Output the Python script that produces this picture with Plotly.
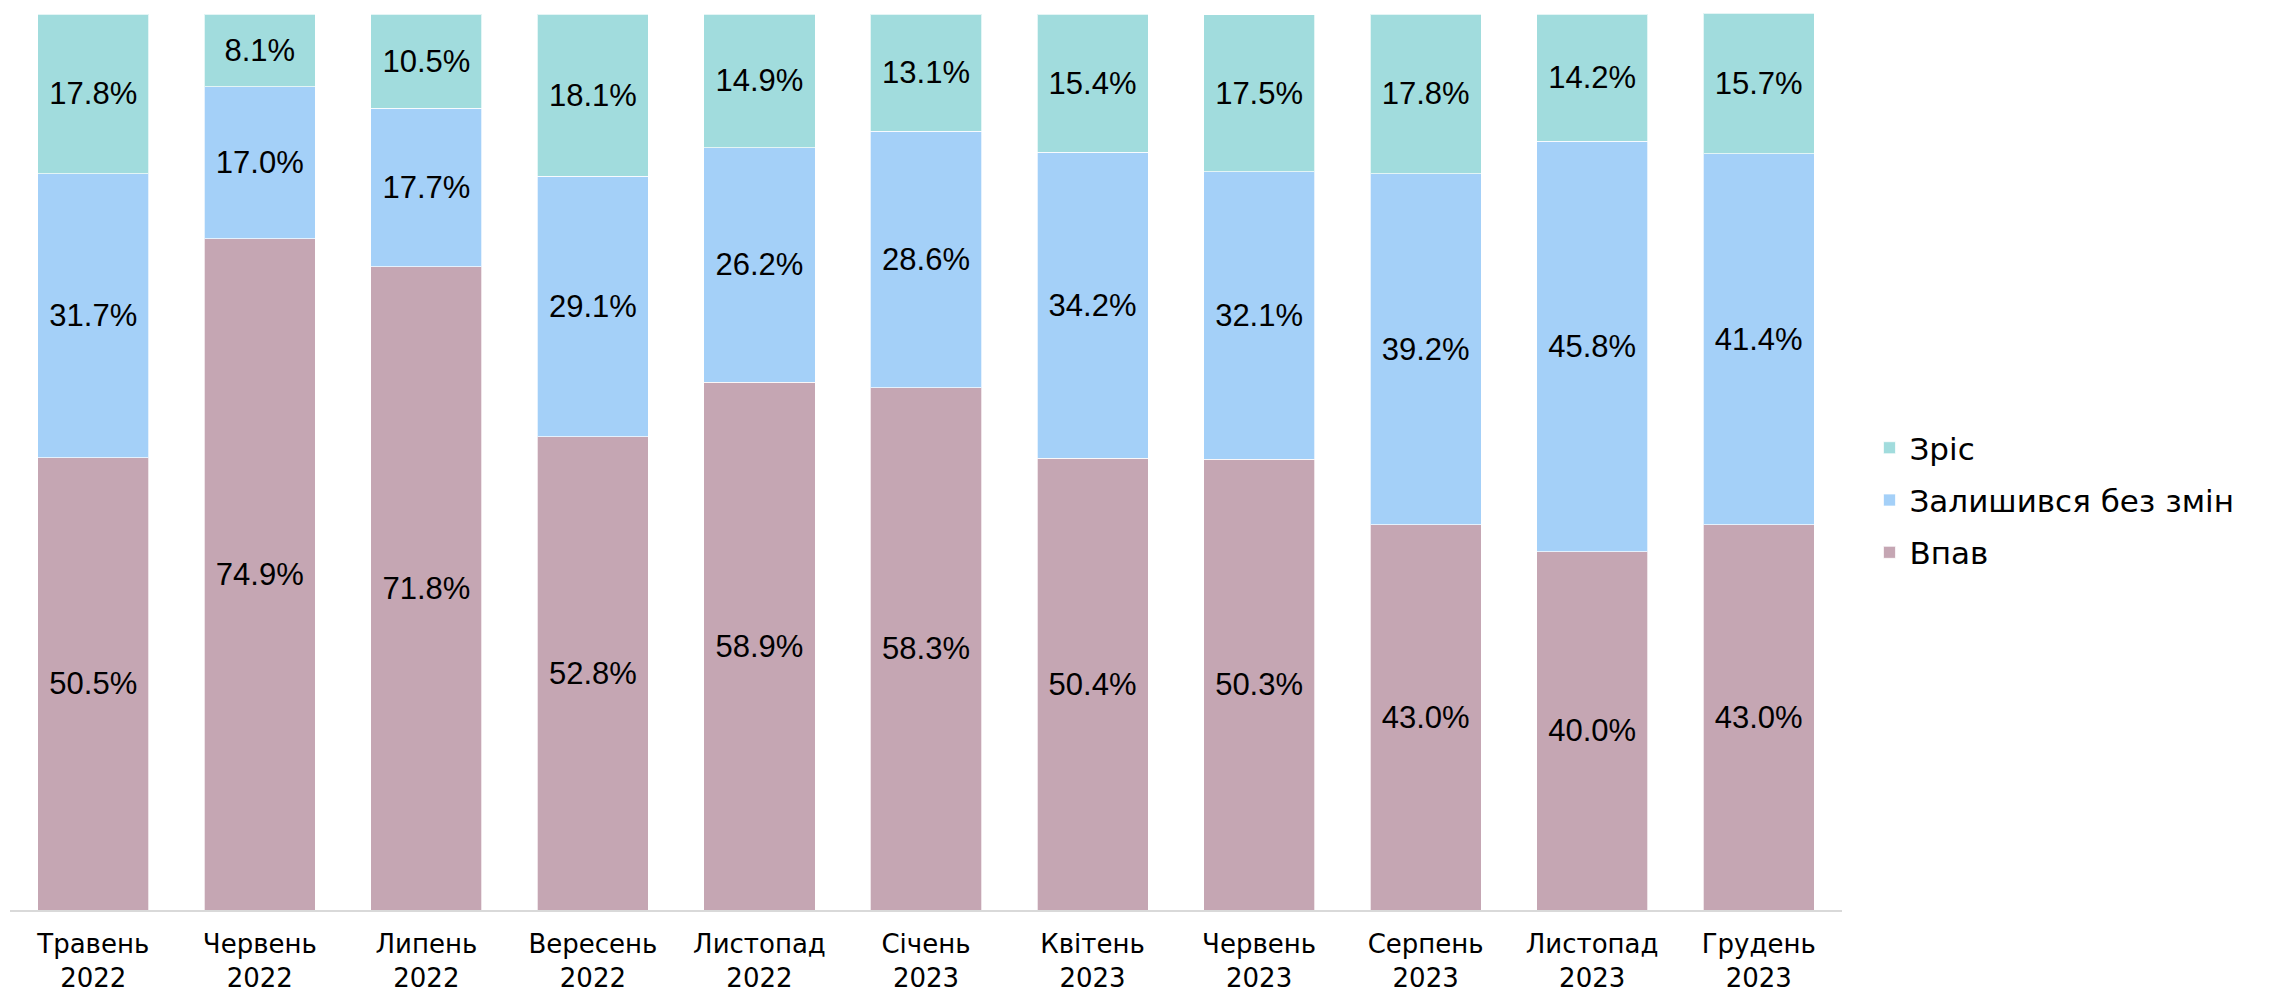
import plotly.graph_objects as go

categories = ["Травень<br>2022", "Червень<br>2022", "Липень<br>2022", "Вересень<br>2022",
              "Листопад<br>2022", "Січень<br>2023", "Квітень<br>2023", "Червень<br>2023",
              "Серпень<br>2023", "Листопад<br>2023", "Грудень<br>2023"]
fell = [50.5, 74.9, 71.8, 52.8, 58.9, 58.3, 50.4, 50.3, 43.0, 40.0, 43.0]
same = [31.7, 17.0, 17.7, 29.1, 26.2, 28.6, 34.2, 32.1, 39.2, 45.8, 41.4]
grew = [17.8, 8.1, 10.5, 18.1, 14.9, 13.1, 15.4, 17.5, 17.8, 14.2, 15.7]

series = [("Впав", fell, "#C5A6B3", 3), ("Залишився без змін", same, "#A4D0F8", 2), ("Зріс", grew, "#A1DCDD", 1)]

fig = go.Figure()
for name, vals, color, rank in series:
    fig.add_trace(go.Bar(
        x=categories, y=vals, name=name, legendgroup=name, legendrank=rank,
        marker=dict(color=color, line=dict(color="rgba(255,255,255,0.7)", width=1)),
        texttemplate="%{y:.1f}%", textposition="inside", insidetextanchor="middle",
        textangle=0, constraintext="none",
        textfont=dict(family="Liberation Sans, Arial", size=31, color="#000000"),
        cliponaxis=False,
    ))

fig.update_layout(
    width=2277, height=997, autosize=False,
    barmode="stack", bargap=0.333,
    plot_bgcolor="white", paper_bgcolor="white",
    margin=dict(l=10, r=435, t=13, b=87),
    font=dict(family="DejaVu Sans, Liberation Sans", color="#000000"),
    showlegend=True,
    legend=dict(
        x=1.015, xanchor="left", y=0.457, yanchor="middle",
        traceorder="grouped", tracegroupgap=9,
        font=dict(family="DejaVu Sans", size=31, color="#000000"),
        bgcolor="rgba(0,0,0,0)",
    ),
)
fig.update_xaxes(
    showline=True, linecolor="#D9D9D9", linewidth=2,
    ticks="", tickfont=dict(family="DejaVu Sans", size=26, color="#000000"),
    showgrid=False, ticklabelstandoff=10, automargin=False,
)
fig.update_yaxes(range=[0, 100.12], visible=False, showgrid=False, automargin=False)

fig.write_html("out.html", config={"displayModeBar": False},
               post_script="document.body.style.margin='0';")
